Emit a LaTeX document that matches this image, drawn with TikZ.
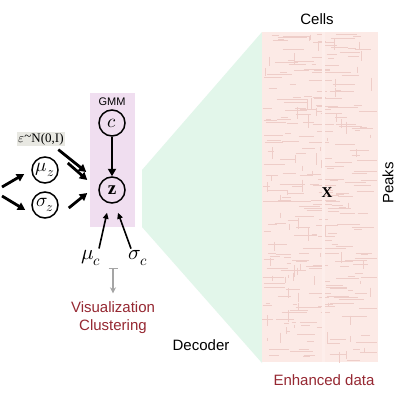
\documentclass[tikz,border=0pt]{standalone}
\usepackage{fontspec}
\setsansfont{Liberation Sans}
\setmainfont{Liberation Serif}
\usepackage{unicode-math}
\setmathfont{Latin Modern Math}
\usetikzlibrary{arrows.meta,calc}
\definecolor{gmmfill}{RGB}{240,222,240}
\definecolor{greenfill}{RGB}{226,246,234}
\definecolor{heatfill}{RGB}{252,234,230}
\definecolor{heatline}{RGB}{238,205,200}
\definecolor{darkred}{RGB}{150,40,50}
\definecolor{epsfill}{RGB}{232,232,226}
\definecolor{tgray}{RGB}{165,165,165}
\tikzset{
  var/.style={circle,draw=black,line width=1.5pt,minimum size=26pt,inner sep=0pt,font=\fontsize{19}{21}\selectfont},
  arr/.style={line width=2.8pt,-{Triangle[length=7.5pt,width=8pt]}},
  thinarr/.style={line width=1.6pt,-{Triangle[length=6pt,width=5.5pt]}},
  lab/.style={font=\sffamily\fontsize{15}{17}\selectfont,inner sep=0pt},
  redlab/.style={lab,text=darkred}
}
\begin{document}
\begin{tikzpicture}[x=1pt,y=-1pt]
\useasboundingbox (0,0) rectangle (399,397);
\fill[white] (0,0) rectangle (399,397);
% green projection
\fill[greenfill] (142,170) -- (262,32) -- (262,363) -- (142,227) -- cycle;
% heat map
\fill[heatfill] (262,32) rectangle (378,362);
\pgfmathsetseed{11}
\foreach \i in {1,...,260}{
  \pgfmathsetmacro{\xa}{262+rnd*100}
  \pgfmathsetmacro{\ya}{34+rnd*326}
  \pgfmathsetmacro{\la}{4+rnd*22}
  \draw[heatline,line width=0.3pt] (\xa,\ya) -- ({min(377,\xa+\la)},\ya);
}
\foreach \i in {1,...,80}{
  \pgfmathsetmacro{\xa}{263+rnd*113}
  \pgfmathsetmacro{\ya}{34+rnd*320}
  \pgfmathsetmacro{\la}{3+rnd*10}
  \draw[heatline,line width=0.3pt] (\xa,\ya) -- (\xa,\ya+\la);
}
\fill[heatfill!80!white] (322,32) rectangle (325,362);
\node[lab] (cells) at (317,19) {Cells};
\node[lab,rotate=90] (peaks) at (388,183) {Peaks};
\node[inner sep=0pt,font=\bfseries\fontsize{15}{17}\selectfont] (X) at (327,193) {X};
\node[redlab] (enh) at (324,380) {Enhanced data};
\node[lab] (dec) at (201,345) {Decoder};
% GMM box
\fill[gmmfill] (90,93) rectangle (135,227);
\node[inner sep=0pt,font=\sffamily\fontsize{11}{13}\selectfont] (gmm) at (112,102) {GMM};
\node[var] (c) at (112,123) {$c$};
\node[var] (z) at (112,190) {$\mathbf{z}$};
\draw[arr] (c) -- (z);
% encoder side
\node[var] (mu) at (45,170) {$\mu_z$};
\node[var] (sig) at (45,205) {$\sigma_z$};
\node[fill=epsfill,inner sep=1.5pt,font=\fontsize{13}{15}\selectfont] (eps) at (41,139) {$\varepsilon$\raisebox{0.2ex}{\textasciitilde}N(0,I)};
\coordinate (inA) at (2,187);
\coordinate (inB) at (2,196);
\draw[arr] (inA) -- ($(mu.west)+(-7,4)$);
\draw[arr] (inB) -- ($(sig.west)+(-6,5)$);
\draw[arr] ($(eps.south east)+(-7,3)$) -- ($(z.west)+(-12,-18)$);
\draw[arr] ($(mu.east)+(9,-7)$) -- ($(z.west)+(-11,-10)$);
\draw[arr] ($(sig.east)+(10,3)$) -- ($(z.west)+(-11,3)$);
% mu_c, sigma_c
\node[inner sep=0pt,font=\fontsize{21}{23}\selectfont] (muc) at (91,258) {$\mu_c$};
\node[inner sep=0pt,font=\fontsize{21}{23}\selectfont] (sigc) at (138,258) {$\sigma_c$};
\draw[thinarr] ($(muc.north)+(8,-2)$) -- ($(z.south)+(-5,9)$);
\draw[thinarr] ($(sigc.north)+(-7,-2)$) -- ($(z.south)+(6,9)$);
% visualization
\node[redlab] (vis) at (113,307) {Visualization};
\node[redlab] (clu) at (113,327) {Clustering};
\coordinate (tstart) at (113,268);
\draw[tgray,line width=1.2pt,{Bar[width=9pt]}-{Stealth[length=6pt,width=6pt]}] (tstart) -- ($(vis.north)+(0,-8)$);
\end{tikzpicture}
\end{document}
